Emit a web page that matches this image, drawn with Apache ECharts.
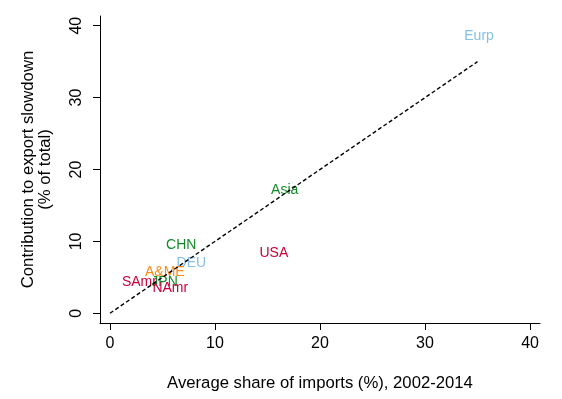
<!DOCTYPE html>
<html>
<head>
<meta charset="utf-8">
<script src="https://cdn.jsdelivr.net/npm/echarts@6/dist/echarts.min.js"></script>
<style>
html,body{margin:0;padding:0;background:#fff;}
#chart{width:562px;height:399px;}
</style>
</head>
<body>
<div id="chart"></div>
<script>
// Data
var countries = ["Eurp", "Asia", "USA", "CHN", "DEU", "A&ME", "SAmr", "JPN", "NAmr"];
var importShare = [33.5, 15.1, 14.0, 5.1, 6.1, 3.1, 0.9, 3.7, 3.8];
var contribution = [38.6, 17.1, 8.4, 9.5, 7.0, 5.7, 4.3, 4.3, 3.5];
var fitLine = [[0, 0], [35, 35]];
var xTicks = [0, 10, 20, 30, 40];
var yTicks = [0, 10, 20, 30, 40];

// Style mapping
var colorOf = {
  "Eurp": "#86c0e8", "DEU": "#86c0e8",
  "Asia": "#148a2a", "CHN": "#148a2a", "JPN": "#148a2a",
  "USA": "#c8003c", "SAmr": "#c8003c", "NAmr": "#c8003c",
  "A&ME": "#ff8a1a"
};

var font = "'Liberation Sans', Arial, sans-serif";
var pts = countries.map(function (c, i) {
  return {
    name: c,
    value: [importShare[i], contribution[i]],
    label: { color: colorOf[c] }
  };
});

var chart = echarts.init(document.getElementById('chart'), null, { renderer: 'canvas' });
chart.setOption({
  backgroundColor: '#fff',
  animation: false,
  grid: { left: 100, right: 22, top: 16, bottom: 76 },
  xAxis: {
    type: 'value', min: -0.95, max: 40.95,
    splitLine: { show: false },
    axisLine: { show: true, onZero: false, lineStyle: { color: '#000', width: 1 } },
    axisTick: { show: true, length: 7, customValues: xTicks, lineStyle: { color: '#000' } },
    axisLabel: { customValues: xTicks, color: '#000', fontSize: 16, fontFamily: font, margin: 13 },
    name: 'Average share of imports (%), 2002-2014',
    nameLocation: 'middle', nameGap: 52,
    nameTextStyle: { color: '#000', fontSize: 16.7, fontFamily: font }
  },
  yAxis: {
    type: 'value', min: -1.35, max: 41.35,
    splitLine: { show: false },
    axisLine: { show: true, onZero: false, lineStyle: { color: '#000', width: 1 } },
    axisTick: { show: true, length: 7, customValues: yTicks, lineStyle: { color: '#000' } },
    axisLabel: { customValues: yTicks, rotate: 90, color: '#000', fontSize: 16, fontFamily: font, margin: 15 },
    name: 'Contribution to export slowdown\n(% of total)',
    nameLocation: 'middle', nameRotate: 90, nameGap: 46,
    nameTextStyle: { color: '#000', fontSize: 16.7, fontFamily: font, lineHeight: 17 }
  },
  series: [
    {
      type: 'scatter',
      data: pts,
      symbolSize: 1,
      itemStyle: { color: 'rgba(0,0,0,0)' },
      label: {
        show: true, position: 'right', distance: 2, opacity: 1,
        formatter: '{b}', fontSize: 14, fontFamily: font
      },
      emphasis: { disabled: true },
      labelLayout: { hideOverlap: false },
      z: 2
    },
    {
      type: 'line',
      data: fitLine,
      symbol: 'none',
      lineStyle: { color: '#000', width: 1.4, type: [4, 2.5] },
      z: 5
    }
  ]
});
</script>
</body>
</html>
